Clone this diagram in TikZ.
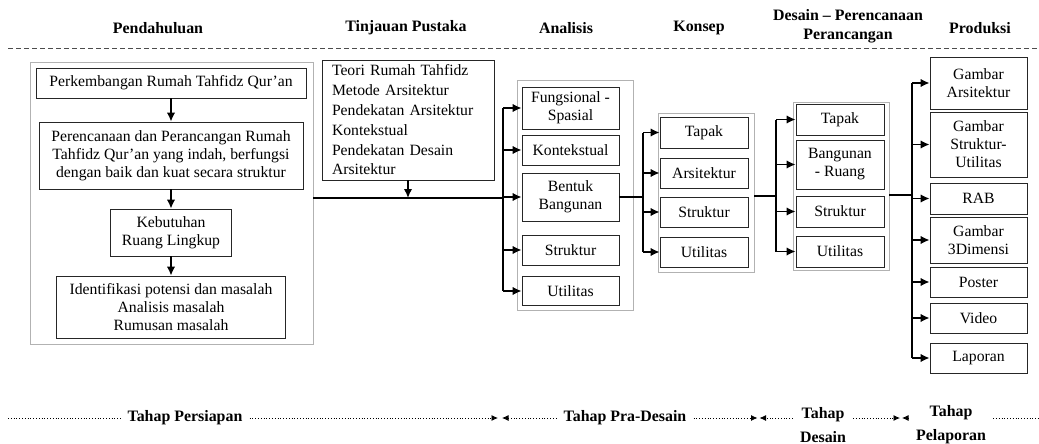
\documentclass[tikz,border=0pt]{standalone}
\usepackage{fontspec}
\setmainfont{Liberation Serif}
\usepackage{tikz}
\usetikzlibrary{arrows,arrows.meta}

\begin{document}
\begin{tikzpicture}[x=1pt, y=-1pt, >={Latex[length=9pt,width=8.5pt]}, font=\fontsize{15.7}{18}\selectfont]

	\tikzstyle{box}=[draw=black!85, line width=0.8pt, inner sep=1pt, align=center]
	\tikzstyle{frame}=[draw=black!30, line width=0.9pt, inner sep=0pt]
	\tikzstyle{head}=[font=\fontsize{15.9}{19}\selectfont\bfseries, align=center]
	\tikzstyle{phase}=[font=\fontsize{15.9}{24}\selectfont\bfseries, align=center, inner sep=7pt]
	\tikzstyle{flow}=[line width=1.7pt]
	\tikzstyle{sep}=[dotted, line width=0.8pt, >={Latex[length=6.5pt,width=6pt]}]
	\useasboundingbox (0,0) rectangle (1039,444);

	% headings
	\node[head] (hPend) at (158,28) {Pendahuluan};
	\node[head] (hTin) at (406,28) {Tinjauan Pustaka};
	\node[head] (hAna) at (566,28) {Analisis};
	\node[head] (hKon) at (699,28) {Konsep};
	\node[head] (hDes) at (848,26.5) {Desain -- Perencanaan\\Perancangan};
	\node[head] (hPro) at (980,28) {Produksi};
	\draw[dashed, black!70, dash pattern=on 5pt off 3pt, line width=0.8pt] (8,48) -- (1039,48);

	% Pendahuluan
	\node[frame, minimum width=283pt, minimum height=282pt] (grpL) at (171.5,203) {};
	\node[box, minimum width=270pt, minimum height=30pt] (p1) at (171,83) {Perkembangan Rumah Tahfidz Qur'an};
	\node[box, minimum width=264pt, minimum height=67pt] (p2) at (171,155.5) {Perencanaan dan Perancangan Rumah\\Tahfidz Qur'an yang indah, berfungsi\\dengan baik dan kuat secara struktur};
	\node[box, minimum width=121pt, minimum height=47pt] (p3) at (171,232.5) {Kebutuhan\\Ruang Lingkup};
	\node[box, minimum width=229pt, minimum height=62pt] (p4) at (171,307) {Identifikasi potensi dan masalah\\Analisis masalah\\Rumusan masalah};
	\draw[flow,->] (p1) -- (p2);
	\draw[flow,->] (p2) -- (p3);
	\draw[flow,->] (p3) -- (p4);

	% Tinjauan Pustaka
	\node[box, align=left, text width=152pt, inner xsep=10pt, minimum height=120pt,
		font=\fontsize{15.7}{19.8}\selectfont] (tp) at (408,120)
		{Teori Rumah Tahfidz\\Metode Arsitektur\\Pendekatan Arsitektur\\Kontekstual\\Pendekatan Desain\\Arsitektur};

	% Analisis
	\node[frame, minimum width=116pt, minimum height=230pt] (grpA) at (575,195) {};
	\node[box, minimum width=97pt, minimum height=42pt] (a1) at (570.5,108) {Fungsional -\\Spasial};
	\node[box, minimum width=97pt, minimum height=30pt] (a2) at (570.5,150) {Kontekstual};
	\node[box, minimum width=97pt, minimum height=48pt] (a3) at (570.5,197) {Bentuk\\Bangunan};
	\node[box, minimum width=97pt, minimum height=30pt] (a4) at (570.5,250) {Struktur};
	\node[box, minimum width=97pt, minimum height=29pt] (a5) at (570.5,291) {Utilitas};
	\coordinate (j1) at (503,198);
	\draw[flow] (grpL.east |- j1) -- (j1);
	\draw[flow,->] (tp.south) -- (tp.south |- j1);
	\draw[flow] (j1 |- a1.west) -- (j1 |- a5.west);
	\draw[flow,->] (j1 |- a1.west) -- (a1.west);
	\draw[flow,->] (j1 |- a2.west) -- (a2.west);
	\draw[flow,->] (j1 |- a3.west) -- (a3.west);
	\draw[flow,->] (j1 |- a4.west) -- (a4.west);
	\draw[flow,->] (j1 |- a5.west) -- (a5.west);

	% Konsep
	\node[frame, minimum width=96pt, minimum height=159pt] (grpK) at (706,192.5) {};
	\node[box, minimum width=88pt, minimum height=31pt] (k1) at (704,132.5) {Tapak};
	\node[box, minimum width=88pt, minimum height=30pt] (k2) at (704,173) {Arsitektur};
	\node[box, minimum width=88pt, minimum height=30pt] (k3) at (704,212) {Struktur};
	\node[box, minimum width=88pt, minimum height=30pt] (k4) at (704,252) {Utilitas};
	\coordinate (j2) at (643,197);
	\draw[flow] (a3.east) -- (j2);
	\draw[flow] (j2 |- k1.west) -- (j2 |- k4.west);
	\draw[flow,->] (j2 |- k1.west) -- (k1.west);
	\draw[flow,->] (j2 |- k2.west) -- (k2.west);
	\draw[flow,->] (j2 |- k3.west) -- (k3.west);
	\draw[flow,->] (j2 |- k4.west) -- (k4.west);

	% Desain - Perencanaan Perancangan
	\node[frame, minimum width=96pt, minimum height=168pt] (grpD) at (841,186) {};
	\node[box, minimum width=88pt, minimum height=31pt] (d1) at (840,119.5) {Tapak};
	\node[box, minimum width=88pt, minimum height=49pt] (d2) at (840,164.5) {Bangunan\\- Ruang};
	\node[box, minimum width=88pt, minimum height=31pt] (d3) at (840,211.5) {Struktur};
	\node[box, minimum width=88pt, minimum height=31pt] (d4) at (840,251.5) {Utilitas};
	\coordinate (j3) at (776,196);
	\draw[flow] (grpK.east |- j3) -- (j3);
	\draw[flow] (j3 |- d1.west) -- (j3 |- d4.west);
	\draw[flow,->] (j3 |- d1.west) -- (d1.west);
	\draw[flow,->] (j3 |- d2.west) -- (d2.west);
	\draw[flow,->] (j3 |- d3.west) -- (d3.west);
	\draw[flow,->] (j3 |- d4.west) -- (d4.west);

	% Produksi
	\node[box, minimum width=97pt, minimum height=52pt] (g1) at (978.5,83) {Gambar\\Arsitektur};
	\node[box, minimum width=97pt, minimum height=65pt] (g2) at (978.5,144.5) {Gambar\\Struktur-\\Utilitas};
	\node[box, minimum width=97pt, minimum height=31pt] (g3) at (978.5,198.5) {RAB};
	\node[box, minimum width=97pt, minimum height=46pt] (g4) at (978.5,240) {Gambar\\3Dimensi};
	\node[box, minimum width=97pt, minimum height=30pt] (g5) at (978.5,282) {Poster};
	\node[box, minimum width=97pt, minimum height=30pt] (g6) at (978.5,318) {Video};
	\node[box, minimum width=97pt, minimum height=30pt] (g7) at (978.5,358) {Laporan};
	\coordinate (j4) at (912,195);
	\draw[flow] (grpD.east |- j4) -- (j4);
	\draw[flow] (j4 |- g1.west) -- (j4 |- g7.west);
	\draw[flow,->] (j4 |- g1.west) -- (g1.west);
	\draw[flow,->] (j4 |- g2.west) -- (g2.west);
	\draw[flow,->] (j4 |- g3.west) -- (g3.west);
	\draw[flow,->] (j4 |- g4.west) -- (g4.west);
	\draw[flow,->] (j4 |- g5.west) -- (g5.west);
	\draw[flow,->] (j4 |- g6.west) -- (g6.west);
	\draw[flow,->] (j4 |- g7.west) -- (g7.west);

	% tahap
	\node[phase] (tPers) at (185,418) {Tahap Persiapan};
	\node[phase] (tPra) at (625,418) {Tahap Pra-Desain};
	\node[phase] (tDes) at (823,425) {Tahap\\Desain};
	\node[phase] (tPel) at (951,425) {Tahap\\Pelaporan};
	\coordinate (e0) at (8,418);
	\coordinate (m1) at (500,418);
	\coordinate (m2) at (758.5,418);
	\coordinate (m3) at (901,418);
	\coordinate (e5) at (1039,418);
	\draw[sep] (e0) -- (tPers.west);
	\draw[sep,->,shorten >=2pt] (tPers.east) -- (m1);
	\draw[sep,->,shorten >=2pt] (tPra.west) -- (m1);
	\draw[sep,->,shorten >=1pt] (tPra.east) -- (m2);
	\draw[sep,->,shorten >=1pt] (tDes.west |- m2) -- (m2);
	\draw[sep,->,shorten >=1pt] (tDes.east |- m3) -- (m3);
	\draw[sep,->,shorten >=1pt] (tPel.west |- m3) -- (m3);
	\draw[sep] (tPel.east |- e5) -- (e5);

\end{tikzpicture}
\end{document}
